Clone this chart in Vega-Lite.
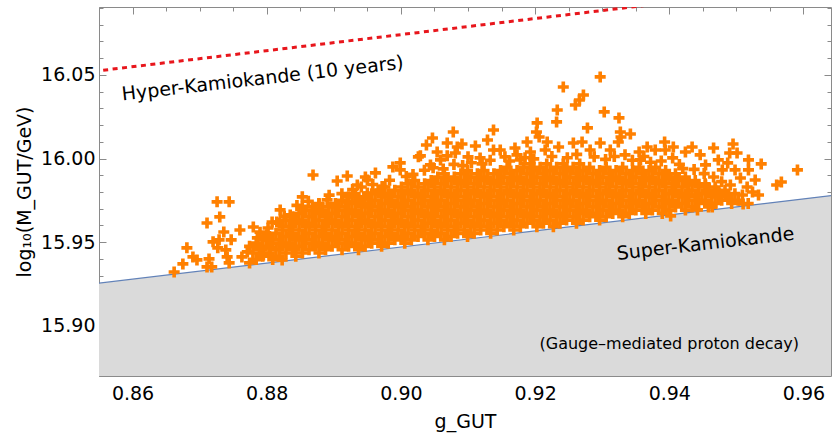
{
"$schema": "https://vega.github.io/schema/vega-lite/v6.json",
"width": 732, "height": 369,
"autosize": {"type": "none"},
"padding": {"left": 99, "top": 7, "right": 1, "bottom": 59},
"background": "white",
"config": {
  "font": "DejaVu Sans",
  "view": {"stroke": null},
  "axis": {"grid": false, "domain": false, "zindex": 1, "tickColor": "#8a8a8a", "tickWidth": 1, "domainColor": "#8a8a8a", "labelFont": "DejaVu Sans", "labelFontSize": 19, "labelColor": "#000000", "titleFont": "DejaVu Sans", "titleFontSize": 19, "titleFontWeight": "normal", "titleColor": "#000000", "labelFlush": false, "labelOverlap": false}
},
"datasets": {
  "sk": [{"g": 0.85, "m": 15.9231}, {"g": 0.97, "m": 15.9807}],
  "hk": [{"g": 0.85, "m": 16.0501}, {"g": 0.97, "m": 16.1077}],
  "lab": [{"g": 0.8794, "m": 16.0478, "t": "Hyper-Kamiokande (10 years)"}, {"g": 0.9454, "m": 15.9490, "t": "Super-Kamiokande"}],
  "lab2": [{"g": 0.9400, "m": 15.8892, "t": "(Gauge–mediated proton decay)"}],
  "pts": [
{"g":0.87744,"m":15.9376},
{"g":0.87843,"m":15.9396},{"g":0.88089,"m":15.9396},
{"g":0.87941,"m":15.9416},{"g":0.88187,"m":15.9416},{"g":0.88433,"m":15.9416},
{"g":0.87794,"m":15.9435},{"g":0.88040,"m":15.9435},{"g":0.88286,"m":15.9435},{"g":0.88532,"m":15.9435},{"g":0.88778,"m":15.9435},
{"g":0.87892,"m":15.9455},{"g":0.88138,"m":15.9455},{"g":0.88384,"m":15.9455},{"g":0.88630,"m":15.9455},{"g":0.88876,"m":15.9455},{"g":0.89122,"m":15.9455},{"g":0.89368,"m":15.9455},
{"g":0.87744,"m":15.9475},{"g":0.87990,"m":15.9475},{"g":0.88236,"m":15.9475},{"g":0.88482,"m":15.9475},{"g":0.88728,"m":15.9475},{"g":0.88974,"m":15.9475},{"g":0.89220,"m":15.9475},{"g":0.89466,"m":15.9475},{"g":0.89712,"m":15.9475},
{"g":0.87843,"m":15.9494},{"g":0.88089,"m":15.9494},{"g":0.88335,"m":15.9494},{"g":0.88581,"m":15.9494},{"g":0.88827,"m":15.9494},{"g":0.89073,"m":15.9494},{"g":0.89319,"m":15.9494},{"g":0.89565,"m":15.9494},{"g":0.89811,"m":15.9494},{"g":0.90057,"m":15.9494},
{"g":0.87941,"m":15.9514},{"g":0.88187,"m":15.9514},{"g":0.88433,"m":15.9514},{"g":0.88679,"m":15.9514},{"g":0.88925,"m":15.9514},{"g":0.89171,"m":15.9514},{"g":0.89417,"m":15.9514},{"g":0.89663,"m":15.9514},{"g":0.89909,"m":15.9514},{"g":0.90155,"m":15.9514},{"g":0.90402,"m":15.9514},{"g":0.90648,"m":15.9514},
{"g":0.88040,"m":15.9534},{"g":0.88286,"m":15.9534},{"g":0.88532,"m":15.9534},{"g":0.88778,"m":15.9534},{"g":0.89024,"m":15.9534},{"g":0.89270,"m":15.9534},{"g":0.89516,"m":15.9534},{"g":0.89762,"m":15.9534},{"g":0.90008,"m":15.9534},{"g":0.90255,"m":15.9534},{"g":0.90501,"m":15.9534},{"g":0.90747,"m":15.9534},{"g":0.90993,"m":15.9534},
{"g":0.88138,"m":15.9553},{"g":0.88384,"m":15.9553},{"g":0.88630,"m":15.9553},{"g":0.88876,"m":15.9553},{"g":0.89122,"m":15.9553},{"g":0.89368,"m":15.9553},{"g":0.89614,"m":15.9553},{"g":0.89860,"m":15.9553},{"g":0.90106,"m":15.9553},{"g":0.90353,"m":15.9553},{"g":0.90599,"m":15.9553},{"g":0.90845,"m":15.9553},{"g":0.91091,"m":15.9553},{"g":0.91337,"m":15.9553},
{"g":0.88236,"m":15.9573},{"g":0.88482,"m":15.9573},{"g":0.88728,"m":15.9573},{"g":0.88974,"m":15.9573},{"g":0.89220,"m":15.9573},{"g":0.89466,"m":15.9573},{"g":0.89712,"m":15.9573},{"g":0.89958,"m":15.9573},{"g":0.90205,"m":15.9573},{"g":0.90451,"m":15.9573},{"g":0.90697,"m":15.9573},{"g":0.90943,"m":15.9573},{"g":0.91189,"m":15.9573},{"g":0.91435,"m":15.9573},{"g":0.91681,"m":15.9573},
{"g":0.88335,"m":15.9593},{"g":0.88581,"m":15.9593},{"g":0.88827,"m":15.9593},{"g":0.89073,"m":15.9593},{"g":0.89319,"m":15.9593},{"g":0.89565,"m":15.9593},{"g":0.89811,"m":15.9593},{"g":0.90057,"m":15.9593},{"g":0.90304,"m":15.9593},{"g":0.90550,"m":15.9593},{"g":0.90796,"m":15.9593},{"g":0.91042,"m":15.9593},{"g":0.91288,"m":15.9593},{"g":0.91534,"m":15.9593},{"g":0.91780,"m":15.9593},{"g":0.92026,"m":15.9593},{"g":0.92272,"m":15.9593},
{"g":0.88187,"m":15.9613},{"g":0.88433,"m":15.9613},{"g":0.88679,"m":15.9613},{"g":0.88925,"m":15.9613},{"g":0.89171,"m":15.9613},{"g":0.89417,"m":15.9613},{"g":0.89663,"m":15.9613},{"g":0.89909,"m":15.9613},{"g":0.90155,"m":15.9613},{"g":0.90402,"m":15.9613},{"g":0.90648,"m":15.9613},{"g":0.90894,"m":15.9613},{"g":0.91140,"m":15.9613},{"g":0.91386,"m":15.9613},{"g":0.91632,"m":15.9613},{"g":0.91878,"m":15.9613},{"g":0.92124,"m":15.9613},{"g":0.92370,"m":15.9613},{"g":0.92616,"m":15.9613},
{"g":0.88286,"m":15.9632},{"g":0.88532,"m":15.9632},{"g":0.88778,"m":15.9632},{"g":0.89024,"m":15.9632},{"g":0.89270,"m":15.9632},{"g":0.89516,"m":15.9632},{"g":0.89762,"m":15.9632},{"g":0.90008,"m":15.9632},{"g":0.90255,"m":15.9632},{"g":0.90501,"m":15.9632},{"g":0.90747,"m":15.9632},{"g":0.90993,"m":15.9632},{"g":0.91239,"m":15.9632},{"g":0.91485,"m":15.9632},{"g":0.91731,"m":15.9632},{"g":0.91977,"m":15.9632},{"g":0.92223,"m":15.9632},{"g":0.92469,"m":15.9632},{"g":0.92715,"m":15.9632},{"g":0.92961,"m":15.9632},
{"g":0.88384,"m":15.9652},{"g":0.88630,"m":15.9652},{"g":0.88876,"m":15.9652},{"g":0.89122,"m":15.9652},{"g":0.89368,"m":15.9652},{"g":0.89614,"m":15.9652},{"g":0.89860,"m":15.9652},{"g":0.90106,"m":15.9652},{"g":0.90353,"m":15.9652},{"g":0.90599,"m":15.9652},{"g":0.90845,"m":15.9652},{"g":0.91091,"m":15.9652},{"g":0.91337,"m":15.9652},{"g":0.91583,"m":15.9652},{"g":0.91829,"m":15.9652},{"g":0.92075,"m":15.9652},{"g":0.92321,"m":15.9652},{"g":0.92567,"m":15.9652},{"g":0.92813,"m":15.9652},{"g":0.93059,"m":15.9652},{"g":0.93305,"m":15.9652},
{"g":0.88482,"m":15.9672},{"g":0.88728,"m":15.9672},{"g":0.88974,"m":15.9672},{"g":0.89220,"m":15.9672},{"g":0.89466,"m":15.9672},{"g":0.89712,"m":15.9672},{"g":0.89958,"m":15.9672},{"g":0.90205,"m":15.9672},{"g":0.90451,"m":15.9672},{"g":0.90697,"m":15.9672},{"g":0.90943,"m":15.9672},{"g":0.91189,"m":15.9672},{"g":0.91435,"m":15.9672},{"g":0.91681,"m":15.9672},{"g":0.91927,"m":15.9672},{"g":0.92173,"m":15.9672},{"g":0.92419,"m":15.9672},{"g":0.92665,"m":15.9672},{"g":0.92911,"m":15.9672},{"g":0.93157,"m":15.9672},{"g":0.93403,"m":15.9672},{"g":0.93649,"m":15.9672},{"g":0.93895,"m":15.9672},
{"g":0.88581,"m":15.9692},{"g":0.88827,"m":15.9692},{"g":0.89073,"m":15.9692},{"g":0.89319,"m":15.9692},{"g":0.89565,"m":15.9692},{"g":0.89811,"m":15.9692},{"g":0.90057,"m":15.9692},{"g":0.90304,"m":15.9692},{"g":0.90550,"m":15.9692},{"g":0.90796,"m":15.9692},{"g":0.91042,"m":15.9692},{"g":0.91288,"m":15.9692},{"g":0.91534,"m":15.9692},{"g":0.91780,"m":15.9692},{"g":0.92026,"m":15.9692},{"g":0.92272,"m":15.9692},{"g":0.92518,"m":15.9692},{"g":0.92764,"m":15.9692},{"g":0.93010,"m":15.9692},{"g":0.93256,"m":15.9692},{"g":0.93502,"m":15.9692},{"g":0.93748,"m":15.9692},{"g":0.93994,"m":15.9692},{"g":0.94240,"m":15.9692},
{"g":0.88679,"m":15.9711},{"g":0.88925,"m":15.9711},{"g":0.89171,"m":15.9711},{"g":0.89417,"m":15.9711},{"g":0.89663,"m":15.9711},{"g":0.89909,"m":15.9711},{"g":0.90155,"m":15.9711},{"g":0.90402,"m":15.9711},{"g":0.90648,"m":15.9711},{"g":0.90894,"m":15.9711},{"g":0.91140,"m":15.9711},{"g":0.91386,"m":15.9711},{"g":0.91632,"m":15.9711},{"g":0.91878,"m":15.9711},{"g":0.92124,"m":15.9711},{"g":0.92370,"m":15.9711},{"g":0.92616,"m":15.9711},{"g":0.92862,"m":15.9711},{"g":0.93108,"m":15.9711},{"g":0.93354,"m":15.9711},{"g":0.93600,"m":15.9711},{"g":0.93846,"m":15.9711},{"g":0.94092,"m":15.9711},{"g":0.94338,"m":15.9711},{"g":0.94584,"m":15.9711},
{"g":0.88778,"m":15.9731},{"g":0.89024,"m":15.9731},{"g":0.89270,"m":15.9731},{"g":0.89516,"m":15.9731},{"g":0.89762,"m":15.9731},{"g":0.90008,"m":15.9731},{"g":0.90255,"m":15.9731},{"g":0.90501,"m":15.9731},{"g":0.90747,"m":15.9731},{"g":0.90993,"m":15.9731},{"g":0.91239,"m":15.9731},{"g":0.91485,"m":15.9731},{"g":0.91731,"m":15.9731},{"g":0.91977,"m":15.9731},{"g":0.92223,"m":15.9731},{"g":0.92469,"m":15.9731},{"g":0.92715,"m":15.9731},{"g":0.92961,"m":15.9731},{"g":0.93207,"m":15.9731},{"g":0.93453,"m":15.9731},{"g":0.93699,"m":15.9731},{"g":0.93945,"m":15.9731},{"g":0.94191,"m":15.9731},{"g":0.94437,"m":15.9731},{"g":0.94683,"m":15.9731},{"g":0.94929,"m":15.9731},{"g":0.95176,"m":15.9731},
{"g":0.89122,"m":15.9751},{"g":0.89368,"m":15.9751},{"g":0.89614,"m":15.9751},{"g":0.89860,"m":15.9751},{"g":0.90106,"m":15.9751},{"g":0.90353,"m":15.9751},{"g":0.90599,"m":15.9751},{"g":0.90845,"m":15.9751},{"g":0.91091,"m":15.9751},{"g":0.91337,"m":15.9751},{"g":0.91583,"m":15.9751},{"g":0.91829,"m":15.9751},{"g":0.92075,"m":15.9751},{"g":0.92321,"m":15.9751},{"g":0.92567,"m":15.9751},{"g":0.92813,"m":15.9751},{"g":0.93059,"m":15.9751},{"g":0.93305,"m":15.9751},{"g":0.93551,"m":15.9751},{"g":0.93797,"m":15.9751},{"g":0.94043,"m":15.9751},{"g":0.94289,"m":15.9751},{"g":0.94535,"m":15.9751},{"g":0.94781,"m":15.9751},{"g":0.95027,"m":15.9751},
{"g":0.89220,"m":15.9771},{"g":0.89466,"m":15.9771},{"g":0.89712,"m":15.9771},{"g":0.89958,"m":15.9771},{"g":0.90205,"m":15.9771},{"g":0.90451,"m":15.9771},{"g":0.90697,"m":15.9771},{"g":0.90943,"m":15.9771},{"g":0.91189,"m":15.9771},{"g":0.91435,"m":15.9771},{"g":0.91681,"m":15.9771},{"g":0.91927,"m":15.9771},{"g":0.92173,"m":15.9771},{"g":0.92419,"m":15.9771},{"g":0.92665,"m":15.9771},{"g":0.92911,"m":15.9771},{"g":0.93157,"m":15.9771},{"g":0.93403,"m":15.9771},{"g":0.93649,"m":15.9771},{"g":0.93895,"m":15.9771},{"g":0.94141,"m":15.9771},{"g":0.94387,"m":15.9771},{"g":0.94633,"m":15.9771},{"g":0.94879,"m":15.9771},
{"g":0.89319,"m":15.9790},{"g":0.89565,"m":15.9790},{"g":0.89811,"m":15.9790},{"g":0.90057,"m":15.9790},{"g":0.90304,"m":15.9790},{"g":0.90550,"m":15.9790},{"g":0.90796,"m":15.9790},{"g":0.91042,"m":15.9790},{"g":0.91288,"m":15.9790},{"g":0.91534,"m":15.9790},{"g":0.91780,"m":15.9790},{"g":0.92026,"m":15.9790},{"g":0.92272,"m":15.9790},{"g":0.92518,"m":15.9790},{"g":0.92764,"m":15.9790},{"g":0.93010,"m":15.9790},{"g":0.93256,"m":15.9790},{"g":0.93502,"m":15.9790},{"g":0.93748,"m":15.9790},{"g":0.93994,"m":15.9790},{"g":0.94240,"m":15.9790},{"g":0.94486,"m":15.9790},{"g":0.94732,"m":15.9790},{"g":0.94978,"m":15.9790},
{"g":0.89663,"m":15.9810},{"g":0.89909,"m":15.9810},{"g":0.90155,"m":15.9810},{"g":0.90402,"m":15.9810},{"g":0.90648,"m":15.9810},{"g":0.90894,"m":15.9810},{"g":0.91140,"m":15.9810},{"g":0.91386,"m":15.9810},{"g":0.91632,"m":15.9810},{"g":0.91878,"m":15.9810},{"g":0.92124,"m":15.9810},{"g":0.92370,"m":15.9810},{"g":0.92616,"m":15.9810},{"g":0.92862,"m":15.9810},{"g":0.93108,"m":15.9810},{"g":0.93354,"m":15.9810},{"g":0.93600,"m":15.9810},{"g":0.93846,"m":15.9810},{"g":0.94092,"m":15.9810},{"g":0.94338,"m":15.9810},{"g":0.94584,"m":15.9810},{"g":0.94830,"m":15.9810},
{"g":0.89762,"m":15.9830},{"g":0.90008,"m":15.9830},{"g":0.90255,"m":15.9830},{"g":0.90501,"m":15.9830},{"g":0.90747,"m":15.9830},{"g":0.90993,"m":15.9830},{"g":0.91239,"m":15.9830},{"g":0.91485,"m":15.9830},{"g":0.91731,"m":15.9830},{"g":0.91977,"m":15.9830},{"g":0.92223,"m":15.9830},{"g":0.92469,"m":15.9830},{"g":0.92715,"m":15.9830},{"g":0.92961,"m":15.9830},{"g":0.93207,"m":15.9830},{"g":0.93453,"m":15.9830},{"g":0.93699,"m":15.9830},{"g":0.93945,"m":15.9830},{"g":0.94191,"m":15.9830},{"g":0.94437,"m":15.9830},{"g":0.94683,"m":15.9830},
{"g":0.90106,"m":15.9849},{"g":0.90353,"m":15.9849},{"g":0.90599,"m":15.9849},{"g":0.90845,"m":15.9849},{"g":0.91091,"m":15.9849},{"g":0.91337,"m":15.9849},{"g":0.91583,"m":15.9849},{"g":0.91829,"m":15.9849},{"g":0.92075,"m":15.9849},{"g":0.92321,"m":15.9849},{"g":0.92567,"m":15.9849},{"g":0.92813,"m":15.9849},{"g":0.93059,"m":15.9849},{"g":0.93305,"m":15.9849},{"g":0.93551,"m":15.9849},{"g":0.93797,"m":15.9849},{"g":0.94043,"m":15.9849},{"g":0.94289,"m":15.9849},{"g":0.94535,"m":15.9849},
{"g":0.90205,"m":15.9869},{"g":0.90451,"m":15.9869},{"g":0.90697,"m":15.9869},{"g":0.90943,"m":15.9869},{"g":0.91189,"m":15.9869},{"g":0.91435,"m":15.9869},{"g":0.91681,"m":15.9869},{"g":0.91927,"m":15.9869},{"g":0.92173,"m":15.9869},{"g":0.92419,"m":15.9869},{"g":0.92665,"m":15.9869},{"g":0.92911,"m":15.9869},{"g":0.93157,"m":15.9869},{"g":0.93403,"m":15.9869},{"g":0.93649,"m":15.9869},{"g":0.93895,"m":15.9869},{"g":0.94141,"m":15.9869},{"g":0.94387,"m":15.9869},
{"g":0.90550,"m":15.9889},{"g":0.90796,"m":15.9889},{"g":0.91042,"m":15.9889},{"g":0.91288,"m":15.9889},{"g":0.91534,"m":15.9889},{"g":0.91780,"m":15.9889},{"g":0.92026,"m":15.9889},{"g":0.92272,"m":15.9889},{"g":0.92518,"m":15.9889},{"g":0.92764,"m":15.9889},{"g":0.93010,"m":15.9889},{"g":0.93256,"m":15.9889},{"g":0.93502,"m":15.9889},{"g":0.93748,"m":15.9889},{"g":0.93994,"m":15.9889},{"g":0.94240,"m":15.9889},
{"g":0.90648,"m":15.9909},{"g":0.90894,"m":15.9909},{"g":0.91140,"m":15.9909},{"g":0.91386,"m":15.9909},{"g":0.91632,"m":15.9909},{"g":0.91878,"m":15.9909},{"g":0.92124,"m":15.9909},{"g":0.92370,"m":15.9909},{"g":0.92616,"m":15.9909},{"g":0.92862,"m":15.9909},{"g":0.93108,"m":15.9909},{"g":0.93354,"m":15.9909},{"g":0.93600,"m":15.9909},{"g":0.93846,"m":15.9909},{"g":0.94092,"m":15.9909},
{"g":0.90993,"m":15.9928},{"g":0.91239,"m":15.9928},{"g":0.91485,"m":15.9928},{"g":0.91731,"m":15.9928},{"g":0.91977,"m":15.9928},{"g":0.92223,"m":15.9928},{"g":0.92469,"m":15.9928},{"g":0.92715,"m":15.9928},{"g":0.92961,"m":15.9928},{"g":0.93207,"m":15.9928},{"g":0.93453,"m":15.9928},{"g":0.93699,"m":15.9928},{"g":0.93945,"m":15.9928},
{"g":0.91583,"m":15.9948},{"g":0.91829,"m":15.9948},{"g":0.92075,"m":15.9948},{"g":0.92321,"m":15.9948},{"g":0.92567,"m":15.9948},{"g":0.92813,"m":15.9948},{"g":0.93059,"m":15.9948},{"g":0.93305,"m":15.9948},{"g":0.93551,"m":15.9948},{"g":0.93797,"m":15.9948},
{"g":0.91927,"m":15.9968},{"g":0.92173,"m":15.9968},{"g":0.92419,"m":15.9968},{"g":0.92665,"m":15.9968},
{"g":0.8845,"m":15.9720},{"g":0.8862,"m":15.9745},{"g":0.8878,"m":15.9728},{"g":0.8893,"m":15.9781},{"g":0.8912,"m":15.9790},
{"g":0.8928,"m":15.9815},{"g":0.8941,"m":15.9830},{"g":0.8958,"m":15.9845},{"g":0.8972,"m":15.9833},{"g":0.8983,"m":15.9870},
{"g":0.9008,"m":15.9893},{"g":0.9018,"m":15.9905},{"g":0.9035,"m":15.9930},{"g":0.9048,"m":15.9945},{"g":0.9063,"m":15.9938},
{"g":0.9079,"m":15.9965},{"g":0.9092,"m":15.9958},{"g":0.9105,"m":15.9975},{"g":0.9121,"m":15.9968},{"g":0.9133,"m":15.9990},
{"g":0.9162,"m":15.9985},{"g":0.9185,"m":16.0005},{"g":0.9198,"m":15.9998},{"g":0.9225,"m":16.0012},{"g":0.9248,"m":16.0005},
{"g":0.9262,"m":16.0025},{"g":0.9288,"m":16.0010},{"g":0.9305,"m":15.9995},{"g":0.9318,"m":16.0012},{"g":0.9345,"m":15.9990},
{"g":0.9362,"m":16.0012},{"g":0.9372,"m":15.9978},{"g":0.9388,"m":15.9985},{"g":0.9415,"m":15.9965},{"g":0.9420,"m":15.9940},
{"g":0.9437,"m":15.9935},{"g":0.9452,"m":15.9910},{"g":0.9466,"m":15.9890},{"g":0.9478,"m":15.9862},
{"g":0.8790,"m":15.9560},{"g":0.8808,"m":15.9620},{"g":0.8826,"m":15.9655},{"g":0.8800,"m":15.9545},
{"g":0.8662,"m":15.9322},{"g":0.8675,"m":15.9370},{"g":0.8681,"m":15.9466},{"g":0.8690,"m":15.9412},{"g":0.8696,"m":15.9394},
{"g":0.8711,"m":15.9615},{"g":0.8726,"m":15.9741},{"g":0.8744,"m":15.9741},{"g":0.8730,"m":15.9651},{"g":0.8736,"m":15.9561},
{"g":0.8760,"m":15.9573},{"g":0.8720,"m":15.9502},{"g":0.8729,"m":15.9514},{"g":0.8747,"m":15.9514},{"g":0.8714,"m":15.9400},
{"g":0.8711,"m":15.9352},{"g":0.8718,"m":15.9352},{"g":0.8739,"m":15.9454},{"g":0.8741,"m":15.9412},{"g":0.8744,"m":15.9376},
{"g":0.8727,"m":15.9466},{"g":0.8763,"m":15.9412},{"g":0.8771,"m":15.9442},{"g":0.8780,"m":15.9591},{"g":0.8795,"m":15.9424},
{"g":0.8786,"m":15.9526},{"g":0.8802,"m":15.9585},{"g":0.8802,"m":15.9514},{"g":0.8815,"m":15.9621},{"g":0.8820,"m":15.9693},
{"g":0.8823,"m":15.9394},{"g":0.8835,"m":15.9663},{"g":0.8853,"m":15.9771},{"g":0.8853,"m":15.9711},{"g":0.8805,"m":15.9466},
{"g":0.8839,"m":15.9472},{"g":0.8869,"m":15.9902},{"g":0.8890,"m":15.9753},{"g":0.8905,"m":15.9866},{"g":0.8920,"m":15.9896},
{"g":0.8935,"m":15.9842},{"g":0.8950,"m":15.9872},{"g":0.8962,"m":15.9914},{"g":0.8988,"m":15.9950},{"g":0.8999,"m":15.9932},
{"g":0.9026,"m":16.0010},{"g":0.8920,"m":15.9741},{"g":0.8950,"m":15.9794},{"g":0.8969,"m":15.9812},{"g":0.8947,"m":15.9890},
{"g":0.8999,"m":15.9974},{"g":0.8945,"m":15.9759},
{"g":0.9029,"m":16.0016},{"g":0.9038,"m":16.0081},{"g":0.9047,"m":16.0123},{"g":0.9054,"m":16.0039},{"g":0.9069,"m":16.0093},
{"g":0.9069,"m":16.0016},{"g":0.9078,"m":16.0159},{"g":0.9081,"m":16.0033},{"g":0.9084,"m":16.0069},{"g":0.9091,"m":16.0087},
{"g":0.9100,"m":16.0010},{"g":0.9111,"m":16.0075},{"g":0.9129,"m":16.0111},{"g":0.9138,"m":16.0171},{"g":0.9138,"m":16.0051},
{"g":0.9155,"m":16.0010},{"g":0.9173,"m":16.0022},{"g":0.9193,"m":16.0039},{"g":0.9188,"m":16.0099},{"g":0.9203,"m":16.0213},
{"g":0.9202,"m":16.0159},{"g":0.9206,"m":16.0129},{"g":0.9218,"m":16.0099},{"g":0.9232,"m":16.0219},{"g":0.9233,"m":16.0290},
{"g":0.9235,"m":16.0069},{"g":0.9242,"m":16.0428},{"g":0.9257,"m":16.0093},{"g":0.9260,"m":16.0320},{"g":0.9266,"m":16.0350},
{"g":0.9272,"m":16.0380},{"g":0.9270,"m":16.0099},{"g":0.9278,"m":16.0183},{"g":0.9297,"m":16.0488},{"g":0.9297,"m":16.0093},
{"g":0.9303,"m":16.0279},{"g":0.9325,"m":16.0243},{"g":0.9327,"m":16.0159},{"g":0.9328,"m":16.0129},{"g":0.9324,"m":16.0099},
{"g":0.9342,"m":16.0147},{"g":0.9355,"m":16.0039},{"g":0.9367,"m":16.0069},{"g":0.9393,"m":16.0099},{"g":0.9406,"m":16.0069},
{"g":0.9434,"m":16.0069},{"g":0.9466,"m":16.0063},{"g":0.9495,"m":16.0087},{"g":0.9501,"m":16.0033},{"g":0.9518,"m":15.9992},
{"g":0.9537,"m":15.9968},{"g":0.9591,"m":15.9932},{"g":0.9567,"m":15.9860},{"g":0.9560,"m":15.9842},{"g":0.9510,"m":15.9729},
{"g":0.9528,"m":15.9872},{"g":0.9516,"m":15.9830},{"g":0.9487,"m":15.9974},{"g":0.9464,"m":15.9711},{"g":0.9442,"m":15.9693},
{"g":0.9402,"m":15.9657},{"g":0.9490,"m":16.0033},
{"g":0.9394,"m":16.0051},{"g":0.9405,"m":16.0004},{"g":0.9424,"m":16.0039},{"g":0.9446,"m":16.0022},{"g":0.9454,"m":15.9962},
{"g":0.9473,"m":15.9992},{"g":0.9479,"m":15.9932},{"g":0.9498,"m":15.9932},{"g":0.9506,"m":15.9884},{"g":0.9518,"m":15.9932},
{"g":0.9524,"m":15.9800},{"g":0.9509,"m":15.9782},{"g":0.9491,"m":15.9842},{"g":0.9484,"m":15.9782},{"g":0.9469,"m":15.9812},
{"g":0.9454,"m":15.9842},{"g":0.9439,"m":15.9782},{"g":0.9428,"m":15.9842},{"g":0.9409,"m":15.9872},{"g":0.9397,"m":15.9902},
{"g":0.9533,"m":15.9782},
{"g":0.9044,"m":15.9962},{"g":0.9059,"m":15.9992},{"g":0.9118,"m":16.0004},{"g":0.9148,"m":16.0051},{"g":0.9170,"m":16.0063},
{"g":0.9215,"m":16.0051},{"g":0.9282,"m":16.0051},{"g":0.9312,"m":16.0051},{"g":0.9334,"m":16.0022},{"g":0.9357,"m":15.9992},
{"g":0.9379,"m":16.0051},{"g":0.9178,"m":15.9992}
  ]
},
"resolve": {"scale": {"x": "shared", "y": "shared"}, "axis": {"x": "independent", "y": "independent"}},
"layer": [
  {
    "data": {"name": "sk"},
    "mark": {"type": "area", "color": "#dadada", "opacity": 1, "clip": true},
    "encoding": {
      "x": {"field": "g", "type": "quantitative", "scale": {"domain": [0.855, 0.9641], "nice": false, "zero": false},
        "axis": {"orient": "bottom", "values": [0.86, 0.88, 0.90, 0.92, 0.94, 0.96], "format": ".2f", "tickSize": -7, "labelPadding": 15, "domain": true, "title": "g_GUT", "titlePadding": 9}},
      "y": {"field": "m", "type": "quantitative", "scale": {"domain": [15.87, 16.0906], "nice": false, "zero": false},
        "axis": {"orient": "left", "values": [15.90, 15.95, 16.00, 16.05], "format": ".2f", "tickSize": -7, "labelPadding": 11, "domain": true, "title": "log₁₀(M_GUT/GeV)", "titlePadding": 6}},
      "y2": {"datum": 15.87}
    }
  },
  {
    "data": {"name": "sk"},
    "mark": {"type": "line", "color": "#6282b8", "strokeWidth": 1.2, "clip": true},
    "encoding": {
      "x": {"field": "g", "type": "quantitative",
        "axis": {"orient": "bottom", "values": [0.855,0.86,0.865,0.87,0.875,0.88,0.885,0.89,0.895,0.90,0.905,0.91,0.915,0.92,0.925,0.93,0.935,0.94,0.945,0.95,0.955,0.96], "labels": false, "tickSize": -4, "title": null}},
      "y": {"field": "m", "type": "quantitative",
        "axis": {"orient": "left", "values": [15.88,15.89,15.90,15.91,15.92,15.93,15.94,15.95,15.96,15.97,15.98,15.99,16.00,16.01,16.02,16.03,16.04,16.05,16.06,16.07,16.08,16.09], "labels": false, "tickSize": -4, "title": null}}
    }
  },
  {
    "data": {"name": "hk"},
    "mark": {"type": "line", "color": "#e8161c", "strokeWidth": 3, "strokeDash": [5, 4.5], "clip": true},
    "encoding": {
      "x": {"field": "g", "type": "quantitative",
        "axis": {"orient": "top", "values": [0.86, 0.88, 0.90, 0.92, 0.94, 0.96], "labels": false, "tickSize": -7, "domain": true, "title": null}},
      "y": {"field": "m", "type": "quantitative",
        "axis": {"orient": "right", "values": [15.90, 15.95, 16.00, 16.05], "labels": false, "tickSize": -7, "domain": true, "title": null}}
    }
  },
  {
    "data": {"name": "pts"},
    "mark": {"type": "point", "shape": "M-1,-0.33H-0.33V-1H0.33V-0.33H1V0.33H0.33V1H-0.33V0.33H-1Z", "filled": true, "size": 121, "color": "#ff8000", "opacity": 1, "strokeWidth": 0},
    "encoding": {
      "x": {"field": "g", "type": "quantitative",
        "axis": {"orient": "top", "values": [0.855,0.86,0.865,0.87,0.875,0.88,0.885,0.89,0.895,0.90,0.905,0.91,0.915,0.92,0.925,0.93,0.935,0.94,0.945,0.95,0.955,0.96], "labels": false, "tickSize": -4, "title": null}},
      "y": {"field": "m", "type": "quantitative",
        "axis": {"orient": "right", "values": [15.88,15.89,15.90,15.91,15.92,15.93,15.94,15.95,15.96,15.97,15.98,15.99,16.00,16.01,16.02,16.03,16.04,16.05,16.06,16.07,16.08,16.09], "labels": false, "tickSize": -4, "title": null}}
    }
  },
  {
    "data": {"name": "lab"},
    "mark": {"type": "text", "font": "DejaVu Sans", "fontSize": 19, "angle": -6.5, "align": "center", "baseline": "middle", "color": "#000000"},
    "encoding": {
      "x": {"field": "g", "type": "quantitative", "axis": null},
      "y": {"field": "m", "type": "quantitative", "axis": null},
      "text": {"field": "t", "type": "nominal"}
    }
  },
  {
    "data": {"name": "lab2"},
    "mark": {"type": "text", "font": "DejaVu Sans", "fontSize": 16, "align": "center", "baseline": "middle", "color": "#000000"},
    "encoding": {
      "x": {"field": "g", "type": "quantitative", "axis": null},
      "y": {"field": "m", "type": "quantitative", "axis": null},
      "text": {"field": "t", "type": "nominal"}
    }
  }
]
}
